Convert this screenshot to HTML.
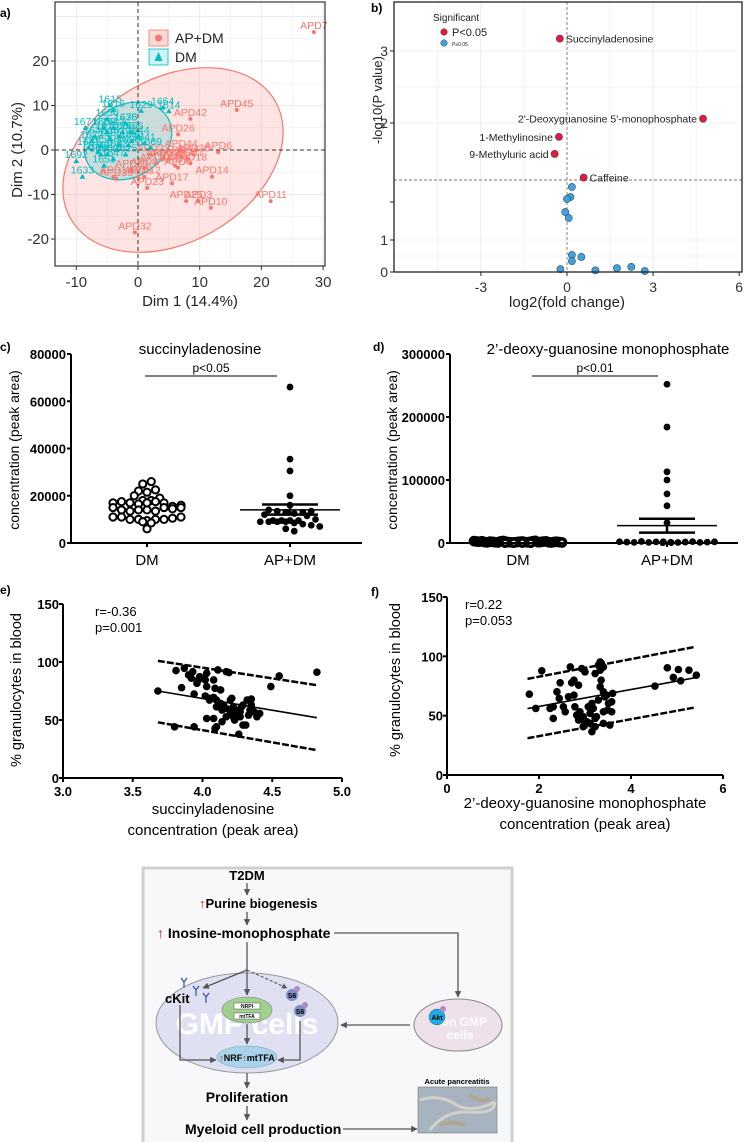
<!DOCTYPE html>
<html><head><meta charset="utf-8"><style>
html,body{margin:0;padding:0;background:#fff;}
svg{display:block;font-family:"Liberation Sans",sans-serif;}
</style></head><body>
<svg id="fig" width="747" height="1142" viewBox="0 0 747 1142" xmlns="http://www.w3.org/2000/svg">
<g>
  <rect x="143" y="868" width="369" height="276" fill="#f8f7f9" stroke="#cfcfcf" stroke-width="3"/>
  <defs>
    <marker id="ah" viewBox="0 0 10 10" refX="9" refY="5" markerWidth="5" markerHeight="5" orient="auto"><path d="M0,0 L10,5 L0,10 z" fill="#555"/></marker>
  </defs>
  <text x="247" y="880" text-anchor="middle" font-weight="bold" font-size="13">T2DM</text>
  <line x1="247" y1="883" x2="247" y2="895" stroke="#555" stroke-width="1.3" marker-end="url(#ah)"/>
  <text x="199" y="908" font-weight="bold" font-size="13"><tspan fill="#e0161b">↑</tspan>Purine biogenesis</text>
  <line x1="247" y1="912" x2="247" y2="925" stroke="#555" stroke-width="1.3" marker-end="url(#ah)"/>
  <text x="157" y="938" font-weight="bold" font-size="14"><tspan fill="#e0161b">↑</tspan> Inosine-monophosphate</text>
  <polyline points="334,933 458,933 458,997" fill="none" stroke="#555" stroke-width="1.3" marker-end="url(#ah)"/>
  <ellipse cx="247" cy="1023" rx="91" ry="50" fill="#dfe1f3" stroke="#999" stroke-width="1"/>
  <text x="247" y="1034" text-anchor="middle" font-weight="bold" font-size="30" fill="#fff">GMP cells</text>
  <line x1="247" y1="942" x2="247" y2="970" stroke="#555" stroke-width="1.3"/>
  <line x1="247" y1="970" x2="203" y2="988" stroke="#555" stroke-width="1.3" marker-end="url(#ah)"/>
  <line x1="247" y1="970" x2="247" y2="995" stroke="#555" stroke-width="1.3" marker-end="url(#ah)"/>
  <line x1="247" y1="970" x2="287" y2="988" stroke="#555" stroke-width="1.1" stroke-dasharray="3,2" marker-end="url(#ah)"/>
  <ellipse cx="247" cy="1010" rx="25" ry="13" fill="#9fd08c" stroke="#888" stroke-width="0.6"/>
  <rect x="234" y="1003" width="26" height="6" fill="#fff" stroke="#555" stroke-width="0.5"/>
  <text x="247" y="1008" text-anchor="middle" font-size="5" font-weight="bold">NRPI</text>
  <rect x="234" y="1013" width="26" height="6" fill="#fff" stroke="#555" stroke-width="0.5"/>
  <text x="247" y="1018" text-anchor="middle" font-size="5" font-weight="bold">mtTFA</text>
  <line x1="247" y1="1024" x2="247" y2="1044" stroke="#555" stroke-width="1.3" marker-end="url(#ah)"/>
  <ellipse cx="247" cy="1057" rx="30" ry="11" fill="#a9d3ea" stroke="#7aa" stroke-width="0.6"/>
  <text x="247" y="1061" text-anchor="middle" font-size="9" font-weight="bold"><tspan fill="#e0161b">↑</tspan>NRF<tspan fill="#e0161b">↑</tspan>mtTFA</text>
  <text x="165" y="1003" font-weight="bold" font-size="13">cKit</text>
  <g stroke="#3a5ab0" stroke-width="1.3" fill="none">
    <path d="M181,978 l3,4 l3,-4 M184,982 v6"/><path d="M193,986 l3,4 l3,-4 M196,990 v6"/><path d="M203,993 l3,4 l3,-4 M206,997 v6"/>
  </g>
  <polyline points="180,1005 180,1060 216,1060" fill="none" stroke="#555" stroke-width="1.3" marker-end="url(#ah)"/>
  <circle cx="292" cy="995" r="6" fill="#7d8fc4"/>
  <circle cx="297" cy="989" r="3" fill="#b08ac0"/>
  <text x="292" y="998" text-anchor="middle" font-size="7" font-weight="bold">S6</text>
  <circle cx="300" cy="1011" r="6" fill="#7d8fc4"/>
  <circle cx="305" cy="1005" r="3" fill="#b08ac0"/>
  <text x="300" y="1014" text-anchor="middle" font-size="7" font-weight="bold">S6</text>
  <polyline points="300,1021 300,1060 278,1060" fill="none" stroke="#555" stroke-width="1.3" marker-end="url(#ah)"/>
  <ellipse cx="458" cy="1025" rx="44" ry="26" fill="#efe1ec" stroke="#888" stroke-width="1"/>
  <text x="460" y="1026" text-anchor="middle" font-weight="bold" font-size="12" fill="#fff">Non GMP</text>
  <text x="460" y="1039" text-anchor="middle" font-weight="bold" font-size="12" fill="#fff">cells</text>
  <circle cx="437" cy="1017" r="8" fill="#19aee6" stroke="#555" stroke-width="0.5"/>
  <circle cx="443" cy="1009" r="3" fill="#b08ac0"/>
  <text x="437" y="1020" text-anchor="middle" font-size="7" font-weight="bold">Akt</text>
  <line x1="410" y1="1025" x2="341" y2="1025" stroke="#555" stroke-width="1.3" marker-end="url(#ah)"/>
  <line x1="247" y1="1073" x2="247" y2="1088" stroke="#555" stroke-width="1.3" marker-end="url(#ah)"/>
  <text x="247" y="1102" text-anchor="middle" font-weight="bold" font-size="14">Proliferation</text>
  <line x1="247" y1="1106" x2="247" y2="1120" stroke="#555" stroke-width="1.3" marker-end="url(#ah)"/>
  <text x="185" y="1134" font-weight="bold" font-size="14">Myeloid cell production</text>
  <line x1="343" y1="1129" x2="417" y2="1129" stroke="#555" stroke-width="1.3" marker-end="url(#ah)"/>
  <text x="457" y="1084" text-anchor="middle" font-weight="bold" font-size="7.5">Acute pancreatitis</text>
  <rect x="418" y="1087" width="79" height="46" fill="#a7b4c0" stroke="#777" stroke-width="0.6"/>
  <path d="M420,1100 q20,-6 35,4 t40,-2 M430,1130 q15,-20 40,-18 t25,-10" stroke="#ddd8cc" stroke-width="3" fill="none" opacity="0.8"/>
  <path d="M440,1125 q10,-5 25,0 M470,1095 q10,8 20,4" stroke="#b99660" stroke-width="4" fill="none" opacity="0.5"/>
</g>
<g id="charts"></g>
</svg>
<script>
const pcaApLabels = ['APD7','APD45','APD42','APD26','APD44','APD6','APD18','APD14','APD17','APD23','APD11','APD25','APD3','APD10','APD32','APD9','APD33','APD8','APD30','APD39','APD5','APD2','APD1','APD20','APD4','APD12','APD15','APD27','APD36','APD34'];
const pcaApX = [28.5,16,8.5,6.5,7,13,8.5,12,5.5,1.5,21.5,7.8,9.8,11.8,-0.5,6,4,1,-1,-3.5,0,2,-4,5,6.5,1,3,8,9,7];
const pcaApY = [26.5,9,7,3.5,0,-0.5,-3,-6,-7.5,-8.5,-11.5,-11.5,-11.5,-13,-18.5,-3.5,-2,-4,-4.5,-6.5,-6,-1,-6,-2,-4,-6,-3,-2,-1,-1.5];
const pcaDmLabels = ['1615','1664','1614','1629','1616','1650','1671','1676','1641','1669','1633','1692','1631','1651','1632','1610','1612','1620','1635','1640','1655','1660','1663','1672','1680','1685','1690','1698','1622','1625','1644','1647','1658','1666','1678'];
const pcaDmX = [-4.5,4,5,0.5,-4,-5,-8.5,-2,1,2,-9,-10,-8,-5.5,-7,-5,-4,-3,-2,-1,-6,-5,-3.5,-7.5,-2.5,-4.5,-6,-1.5,-3,-2,0,-4,-5.5,-1,-6.5];
const pcaDmY = [10,9.5,8.7,8.8,9,7,5,6,1.5,0.5,-6,-2.5,0.5,-3.5,3,4,5,3,6,2,1,-1,0,2,4,2.5,-1,1,1,-1,3,-2,5,4,-0.5];

const volcX = [-0.25,4.74,-0.28,-0.43,0.58,0.17,0.12,0,-0.06,0.06,0.17,0.17,0.5,-0.23,0.99,1.74,2.24,2.71];
const volcY = [3.17,2.06,1.83,1.62,1.33,1.265,1.215,1.205,1.14,1.11,0.53,0.34,0.47,0.09,-0.05,0.12,0.16,0.03];
const volcNames = ['Succinyladenosine',"2'-Deoxyguanosine 5'-monophosphate",'1-Methylinosine','9-Methyluric acid','Caffeine','','','','','','','','','','','','',''];
const volcSig = [1,1,1,1,1,0,0,0,0,0,0,0,0,0,0,0,0,0];

const succDM = [25,22,21.5,22.5,26,20,18,17,17.5,17,16.5,17,17.5,17,18,19,15.5,15,14,13.5,14,14,13.5,15,14.5,15,16,11,11,10,10,9.5,10,9,8.5,10,10.5,11,6].map(v=>v*1000);
const succAP = [66,35.5,30.5,20,16,14,13.5,13,12.5,13,12,13.5,9.5,9.5,9,9,9,9.5,9.5,9,8.5,8,7.5,7,6,5,11.5,10].map(v=>v*1000);
const succApMean = 14000, succApLo = 12000, succApHi = 16300;

const dgmpDM = [3,2.5,2,2.8,1.5,1,0.5,2.2,1.8,1.2,0.8,2.6,3.2,2,1.5,1,0.6,0.9,1.4,2.1,2.4,1.7,1.1,0.7,1.9,2.9,3.5,1.3,0.4,1.6,2.3,2.7,1.2,0.8,1.6,2,1.4,0.9].map(v=>v*1000);
const dgmpAP = [252,184,113,100,78,59,32,2,1.5,1,2.5,1,0.5,1.8,2,1.2,0.8,1.5,2.2,1,0.6,1.4,1.9].map(v=>v*1000);
const dgmpApMean = 27500, dgmpApLo = 16500, dgmpApHi = 38500;

const corrEX = [3.68,3.81,3.85,3.87,3.90,3.92,3.93,3.96,3.97,3.98,4.01,4.02,4.03,4.03,4.08,4.09,4.11,4.13,4.10,4.17,4.19,3.94,4.02,4.05,4.08,4.10,4.10,4.13,4.14,4.15,4.17,4.20,4.21,4.22,4.23,4.26,4.27,4.28,4.29,4.32,4.34,4.35,4.37,4.33,4.23,4.08,4.17,4.14,4.29,4.22,4.27,4.20,4.49,4.55,4.82,4.39,4.41,4.35,3.80,3.94,4.09,4.26,4.31,4.05,4.03];
const corrEY = [75,92.6,77.9,94.6,88.9,86,91.7,81.6,84.5,87.4,86,84.5,90.3,78.8,84.5,77.3,93.2,75.9,44.1,91.7,90.9,72.4,70.7,68.7,69.5,67.2,61.4,64.3,58.6,62.9,60,57.1,68.7,61.4,55.7,58.6,52.8,61.4,62.9,67.2,58.6,62.9,57.1,54.2,49.9,51.3,52.8,48.5,45.6,52.8,57.1,67.2,78.8,88,91.2,52.8,55.7,68.1,44.1,44.1,42.7,37.8,45.6,67.2,51.3];
const corrFX = [1.79,1.93,2.06,2.24,2.31,2.39,2.46,2.44,2.53,2.57,2.68,2.71,2.76,2.78,2.82,2.86,2.89,2.93,2.96,3.0,3.04,3.07,3.11,3.15,3.18,3.22,3.25,3.29,3.33,3.35,3.36,3.40,3.43,3.40,3.47,3.49,3.51,3.40,3.54,3.58,3.60,3.11,3.0,3.22,3.29,3.33,3.33,2.86,2.64,3.22,4.52,4.79,4.92,5.03,5.08,5.26,5.42,3.58,3.40,3.15,2.96,2.76,2.31];
const corrFY = [68.1,56.1,87.8,56.1,47.7,70.1,77.7,64.5,57.5,53.3,91.1,77.7,67.3,57.5,50.5,46.3,53.3,89.7,49.1,43.5,44.9,57.5,51.9,60.3,56.1,47.7,49.1,63.1,74.3,79.9,93.9,53.3,65.9,91.1,67.3,54.7,60.3,43.5,42.1,61.7,68.7,43.5,86.9,85.5,92.5,88.3,95.3,75.7,65.9,40.7,74.9,90.3,82.2,88.9,79.4,88.3,84.1,53.3,70.1,36.5,40.7,79.9,57.5];
const fitE = [[3.68,75,101,48],[4.82,52,80,24]];
const fitF = [[1.75,56,81,31],[5.4,82,108,57]];

const NS='http://www.w3.org/2000/svg';
const root=document.getElementById('charts');
function mk(tag,attrs,parent){const e=document.createElementNS(NS,tag);for(const k in attrs)e.setAttribute(k,attrs[k]);(parent||root).appendChild(e);return e;}
function txt(s,attrs,parent){const e=mk('text',attrs,parent);e.textContent=s;return e;}
function lin(x1,y1,x2,y2,st,w,extra,parent){return mk('line',Object.assign({x1,y1,x2,y2,stroke:st,'stroke-width':w},extra||{}),parent);}

// panel a
const gA=mk('g',{});


const xa=v=>138+v*6.17, ya=v=>150-v*4.45;
mk('rect',{x:55,y:2,width:270,height:264,fill:'#fff'},gA);
for(let v=-10;v<=30;v+=5){lin(xa(v),2,xa(v),266,'#ebebeb',v%10===0?1:0.5,null,gA);}
for(let v=-25;v<=30;v+=5){if(ya(v)>2&&ya(v)<266)lin(55,ya(v),325,ya(v),'#ebebeb',v%10===0?1:0.5,null,gA);}
const elR=mk('ellipse',{cx:173,cy:160,rx:118,ry:82,transform:'rotate(-30 173 160)',fill:'#f8766d','fill-opacity':0.2,stroke:'#f8766d','stroke-width':1.2},gA);


const elC=mk('ellipse',{cx:128,cy:141,rx:46,ry:36,transform:'rotate(-30 128 141)',fill:'#00bfc4','fill-opacity':0.2,stroke:'#00bfc4','stroke-width':1.2},gA);


lin(xa(0),2,xa(0),266,'#333',1,{'stroke-dasharray':'4,3'},gA);
lin(55,ya(0),325,ya(0),'#333',1,{'stroke-dasharray':'4,3'},gA);
pcaApX.forEach((v,i)=>{
  const p=mk('circle',{cx:xa(v),cy:ya(pcaApY[i]),r:2,fill:'#f8766d'},gA);
  
  
  const t=txt(pcaApLabels[i],{x:xa(v),y:ya(pcaApY[i])-3,'text-anchor':'middle','font-size':10.5,fill:'#f8766d'},gA);
  
  
});
pcaDmX.forEach((v,i)=>{
  const x=xa(v),y=ya(pcaDmY[i]);
  const p=mk('path',{d:`M${x},${y-3} L${x+3},${y+2} L${x-3},${y+2} Z`,fill:'#00bfc4'},gA);
  
  
  const t=txt(pcaDmLabels[i],{x:x,y:y-3,'text-anchor':'middle','font-size':10.5,fill:'#00bfc4'},gA);
  
  
});
mk('rect',{x:55,y:2,width:270,height:264,fill:'none',stroke:'#333','stroke-width':1.2},gA);
[-10,0,10,20,30].forEach(v=>{lin(xa(v),266,xa(v),270,'#333',1,null,gA);
  const t=txt(String(v),{x:xa(v),y:287,'text-anchor':'middle','font-size':15,fill:'#333'},gA);
  
  });
[20,10,0,-10,-20].forEach(v=>{lin(51,ya(v),55,ya(v),'#333',1,null,gA);
  const t=txt(String(v),{x:49,y:ya(v)+5,'text-anchor':'end','font-size':15,fill:'#333'},gA);
  
  });
const ax1=txt('Dim 1 (14.4%)',{x:190,y:306,'text-anchor':'middle','font-size':15,fill:'#222'},gA);


const ax2=txt('Dim 2 (10.7%)',{x:22,y:150,'text-anchor':'middle','font-size':15,fill:'#222',transform:'rotate(-90 22 150)'},gA);


const la=txt('a)',{x:0,y:17,'font-size':12,'font-weight':'bold'},gA);


const lg1=mk('g',{},gA);


mk('rect',{x:149,y:30,width:19,height:16,fill:'#fbd9d6',stroke:'#f8766d','stroke-width':0.8},lg1);
mk('circle',{cx:158.5,cy:38,r:3.5,fill:'#f8766d'},lg1);
mk('rect',{x:149,y:49,width:19,height:16,fill:'#ccf2f3',stroke:'#00bfc4','stroke-width':0.8},lg1);
mk('path',{d:'M158.5,52 L162.5,61 L154.5,61 Z',fill:'#00bfc4'},lg1);
txt('AP+DM',{x:175,y:43,'font-size':14,fill:'#222'},lg1);
txt('DM',{x:175,y:62,'font-size':14,fill:'#222'},lg1);

// panel b
const gB=mk('g',{});


const xb=v=>567+v*28.7;
const yDom=[0,1,1.3,2,3,3.7], yRng=[272,240,180,123,51,0];
function yb(v){if(v<=0)return 272-v*(-32);for(let i=1;i<yDom.length;i++){if(v<=yDom[i]){const t=(v-yDom[i-1])/(yDom[i]-yDom[i-1]);return yRng[i-1]+t*(yRng[i]-yRng[i-1]);}}return 0;}
[-4.5,-1.5,1.5,4.5].forEach(v=>lin(xb(v),2,xb(v),272,'#eee',0.8,null,gB));
[-3,3].forEach(v=>lin(xb(v),2,xb(v),272,'#e6e6e6',0.8,null,gB));
[0.5,1,2,2.5,3].forEach(v=>lin(394,yb(v),742,yb(v),'#eee',0.8,null,gB));
lin(xb(0),2,xb(0),272,'#777',0.9,{'stroke-dasharray':'3,2'},gB);
lin(394,yb(1.3),742,yb(1.3),'#777',0.9,{'stroke-dasharray':'3,2'},gB);
volcX.forEach((v,i)=>{
  const c=mk('circle',{cx:xb(v),cy:yb(volcY[i]),r:3.6,fill:volcSig[i]?'#e8173e':'#3ba3e3',stroke:'#444','stroke-width':0.6},gB);
  
  
  if(volcNames[i]){
    const left=(i===1||i===2||i===3);
    const t=txt(volcNames[i],{x:xb(v)+(left?-6:6),y:yb(volcY[i])+4,'text-anchor':left?'end':'start','font-size':10.5,fill:'#222'},gB);
    
    
  }
});
mk('rect',{x:394,y:2,width:348,height:270,fill:'none',stroke:'#222','stroke-width':1.3},gB);
[[3,'3'],[2,'2'],[1,'1'],[0,'0']].forEach(([v,s])=>{lin(390,yb(v),394,yb(v),'#222',1,null,gB);
  const t=txt(s,{x:388,y:yb(v)+5,'text-anchor':'end','font-size':14,fill:'#333'},gB);
  
  });
lin(390,202,394,202,'#222',1,null,gB);
[-3,0,3,6].forEach(v=>{lin(xb(v),272,xb(v),276,'#222',1,null,gB);
  const t=txt(String(v),{x:xb(v),y:292,'text-anchor':'middle','font-size':14,fill:'#333'},gB);
  
  });
const bx=txt('log2(fold change)',{x:567,y:307,'text-anchor':'middle','font-size':15,fill:'#222'},gB);


const by=txt('-log10(P value)',{x:382,y:100,'text-anchor':'middle','font-size':13,fill:'#222',transform:'rotate(-90 382 100)'},gB);


const lb=txt('b)',{x:371,y:12,'font-size':12,'font-weight':'bold'},gB);


const lgB=mk('g',{},gB);


txt('Significant',{x:433,y:21,'font-size':10,fill:'#222'},lgB);
mk('circle',{cx:444,cy:32,r:3.3,fill:'#e8173e',stroke:'#444','stroke-width':0.5},lgB);
txt('P<0.05',{x:452,y:36,'font-size':11,fill:'#222'},lgB);
mk('circle',{cx:444,cy:43,r:3.3,fill:'#3ba3e3',stroke:'#444','stroke-width':0.5},lgB);
txt('P≥0.05',{x:452,y:46,'font-size':5,fill:'#222'},lgB);

// panels c, d
function swarm(g,vals,cx,ys,filled,name,maxW,sw){
  const bins={};
  vals.forEach(v=>{const k=Math.round(ys(v)/7);(bins[k]=bins[k]||[]).push(v);});
  Object.keys(bins).forEach(k=>{const arr=bins[k];const n=arr.length;
    let sp=8.5; if((n-1)*sp>maxW) sp=maxW/(n-1);
    arr.forEach((v,j)=>{
      const c=mk('circle',{cx:cx+(j-(n-1)/2)*sp,cy:ys(v),r:filled?3.4:3.6,fill:filled?'#000':'#fff',stroke:'#000','stroke-width':filled?0:sw},g);
      
      
    });});
}
function dotPanel(o){
  const g=mk('g',{});
  
  
  const ys=v=>543-v/o.max*189;
  o.ticks.forEach(v=>{lin(o.left-4,ys(v),o.left,ys(v),'#000',2,null,g);
    const t=txt(String(v),{x:o.left-5,y:ys(v)+5,'text-anchor':'end','font-size':13,'font-weight':'bold'},g);
    
    });
  swarm(g,o.dm,o.c1,ys,false,'dm-sample-point',o.dmW,o.dmSw);
  swarm(g,o.ap,o.c2,ys,true,'ap-dm-sample-point',95,2);
  const m=lin(o.c2-50,ys(o.mean),o.c2+50,ys(o.mean),'#000',1.5,null,g);
  
  
  lin(o.c2-28,ys(o.hi),o.c2+28,ys(o.hi),'#000',2.5,null,g);
  lin(o.c2-28,ys(o.lo),o.c2+28,ys(o.lo),'#000',2.5,null,g);
  lin(o.c2,ys(o.hi),o.c2,ys(o.lo),'#000',2.5,null,g);
  lin(o.left,354,o.left,543,'#000',2,null,g);
  lin(o.left,543,o.right,543,'#000',2,null,g);
  [o.c1,o.c2].forEach(x=>lin(x,543,x,547,'#000',2,null,g));
  const a=txt('DM',{x:o.c1,y:565,'text-anchor':'middle','font-size':15},g);
  
  
  const b=txt('AP+DM',{x:o.c2,y:565,'text-anchor':'middle','font-size':15},g);
  
  
  const ti=txt(o.title,{x:o.tx,y:354,'text-anchor':'middle','font-size':15},g);
  
  
  lin(o.p1,376,o.p2,376,'#000',1,null,g);
  const pv=txt(o.pval,{x:(o.p1+o.p2)/2,y:372,'text-anchor':'middle','font-size':12},g);
  
  
  const yt=txt('concentration (peak area)',{x:o.yx,y:450,'text-anchor':'middle','font-size':14,transform:`rotate(-90 ${o.yx} 450)`},g);
  
  
  const pl=txt(o.label,{x:o.lx,y:351,'font-size':12,'font-weight':'bold'},g);
  
  
}
dotPanel({name:'succinyladenosine-dot-plot',left:71,right:362,c1:147,c2:290,max:80000,ticks:[0,20000,40000,60000,80000],dm:succDM,ap:succAP,mean:succApMean,lo:succApLo,hi:succApHi,title:'succinyladenosine',tx:200,p1:145,p2:277,pval:'p<0.05',yx:19,label:'c)',lx:0,dmW:95,dmSw:2});
dotPanel({name:'dgmp-dot-plot',left:450,right:738,c1:518,c2:667,max:300000,ticks:[0,100000,200000,300000],dm:dgmpDM,ap:dgmpAP,mean:dgmpApMean,lo:dgmpApLo,hi:dgmpApHi,title:'2\u2019-deoxy-guanosine monophosphate',tx:608,p1:532,p2:658,pval:'p<0.01',yx:397,label:'d)',lx:373,dmW:88,dmSw:3.5});

// panels e, f
function corrPanel(o){
  const g=mk('g',{});
  
  
  const xs=v=>o.x0+(v-o.xmin)/(o.xmax-o.xmin)*(o.x1-o.x0);
  const ys=v=>o.y0-v/150*(o.y0-o.y1);
  const rl=lin(xs(o.fit[0][0]),ys(o.fit[0][1]),xs(o.fit[1][0]),ys(o.fit[1][1]),'#000',1.6,null,g);
  
  
  const ub=lin(xs(o.fit[0][0]),ys(o.fit[0][2]),xs(o.fit[1][0]),ys(o.fit[1][2]),'#000',2.5,{'stroke-dasharray':'7,2'},g);
  
  
  const lbnd=lin(xs(o.fit[0][0]),ys(o.fit[0][3]),xs(o.fit[1][0]),ys(o.fit[1][3]),'#000',2.5,{'stroke-dasharray':'7,2'},g);
  
  
  o.xv.forEach((v,i)=>{
    const c=mk('circle',{cx:xs(v),cy:ys(o.yv[i]),r:3.8,fill:'#000'},g);
    
    
  });
  lin(o.x0,o.y0,o.x0,o.y1,'#000',2,null,g);
  lin(o.x0,o.y0,o.x1,o.y0,'#000',2,null,g);
  [0,50,100,150].forEach(v=>{lin(o.x0-4,ys(v),o.x0,ys(v),'#000',2,null,g);
    const t=txt(String(v),{x:o.x0-4,y:ys(v)+5,'text-anchor':'end','font-size':13,'font-weight':'bold'},g);
    
    });
  o.xticks.forEach(v=>{lin(xs(v),o.y0,xs(v),o.y0+4,'#000',2,null,g);
    const t=txt(o.fmt(v),{x:xs(v),y:o.y0+18,'text-anchor':'middle','font-size':13,'font-weight':'bold'},g);
    
    });
  const yt=txt('% granulocytes in blood',{x:o.yx,y:o.yc,'text-anchor':'middle','font-size':14.5,transform:`rotate(-90 ${o.yx} ${o.yc})`},g);
  
  
  o.xt.forEach((s,i)=>{const t=txt(s,{x:o.xc,y:o.xty+i*21,'text-anchor':'middle','font-size':15},g);
    
    });
  o.stats.forEach((s,i)=>{const t=txt(s,{x:o.sx,y:o.sy+i*16,'font-size':13},g);
    
    });
  const pl=txt(o.label,{x:o.lx,y:o.ly,'font-size':12,'font-weight':'bold'},g);
  
  
}
corrPanel({name:'succinyladenosine-correlation',x0:63,x1:342,xmin:3,xmax:5,y0:778,y1:604,xv:corrEX,yv:corrEY,fit:fitE,xticks:[3,3.5,4,4.5,5],fmt:v=>v.toFixed(1),yx:21,yc:690,xc:213,xty:814,xt:['succinyladenosine','concentration (peak area)'],stats:['r=-0.36','p=0.001'],sx:95,sy:616,label:'e)',lx:0,ly:594});
corrPanel({name:'dgmp-correlation',x0:447,x1:723,xmin:0,xmax:6,y0:775,y1:597,xv:corrFX,yv:corrFY,fit:fitF,xticks:[0,2,4,6],fmt:v=>String(v),yx:400,yc:680,xc:585,xty:808,xt:['2\u2019-deoxy-guanosine monophosphate','concentration (peak area)'],stats:['r=0.22','p=0.053'],sx:465,sy:609,label:'f)',lx:371,ly:596});
</script>
</body></html>
